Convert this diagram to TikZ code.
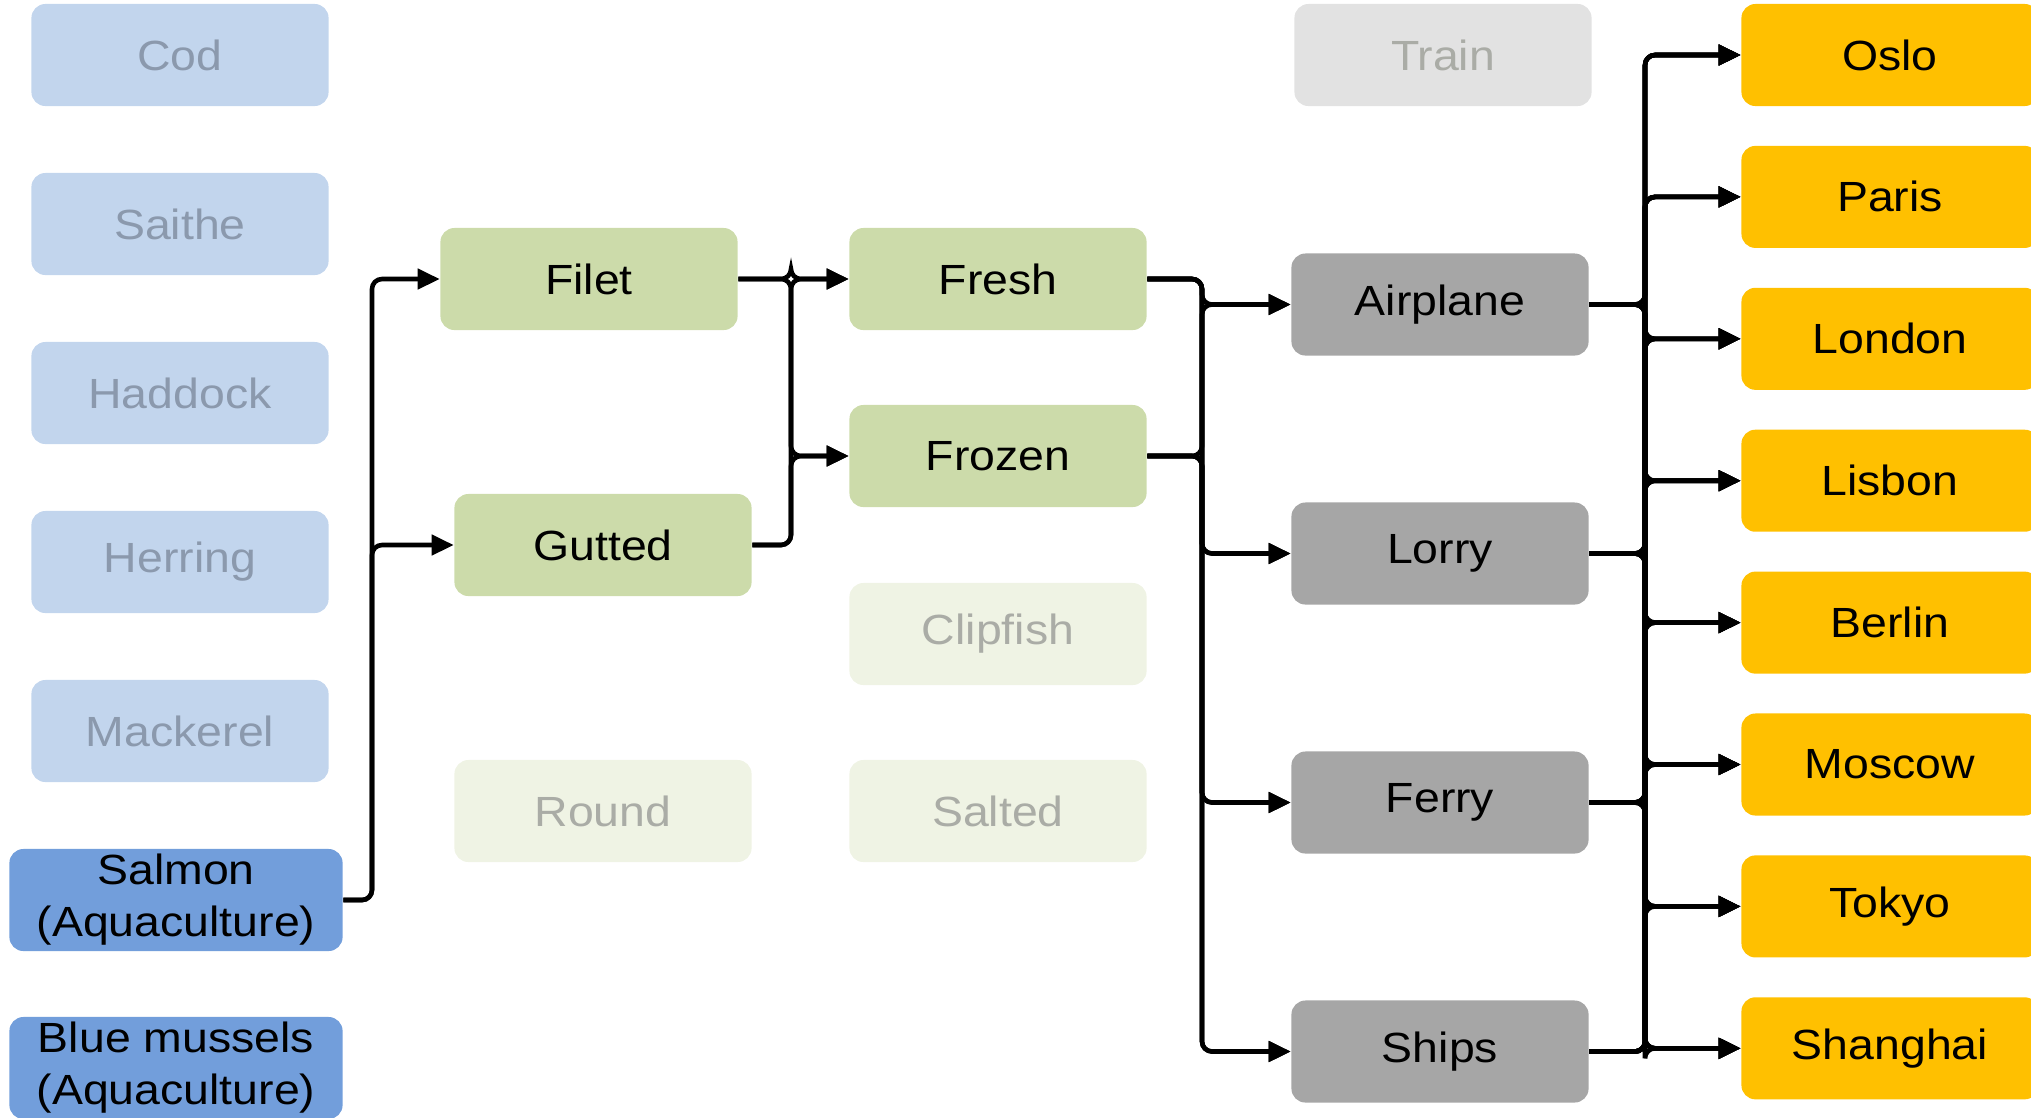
\documentclass[tikz,border=0pt]{standalone}
\usepackage{fontspec}
\setmainfont{Liberation Sans}[FakeStretch=1.1]
\usetikzlibrary{arrows.meta}
\definecolor{fishpale}{RGB}{194,213,237}
\definecolor{fishtext}{RGB}{139,153,173}
\definecolor{fishblue}{RGB}{114,158,219}
\definecolor{cutgreen}{RGB}{204,219,170}
\definecolor{cutpale}{RGB}{239,243,228}
\definecolor{paletext}{RGB}{170,172,166}
\definecolor{ridegray}{RGB}{166,166,166}
\definecolor{ridepale}{RGB}{226,226,226}
\definecolor{cityyellow}{RGB}{255,192,0}

\begin{document}
\begin{tikzpicture}[x=0.01cm,y=-0.01cm,
  box/.style={rounded corners=0.14cm,minimum width=2.97cm,minimum height=1.02cm,inner sep=0pt,align=center,font=\fontsize{12}{14.8}\selectfont},
  fishoff/.style={box,fill=fishpale,text=fishtext},
  fishon/.style={box,fill=fishblue,minimum width=3.33cm},
  cut/.style={box,fill=cutgreen},
  cutoff/.style={box,fill=cutpale,text=paletext},
  ride/.style={box,fill=ridegray},
  rideoff/.style={box,fill=ridepale,text=paletext},
  city/.style={box,fill=cityyellow},
  link/.style={line width=1.3pt,rounded corners=0.1cm,-{Triangle[length=0.22cm,width=0.2cm]}}]
\clip (0,0) rectangle (2031,1117);
\foreach \n/\t [count=\i from 0] in {cod/Cod,saithe/Saithe,haddock/Haddock,herring/Herring,mackerel/Mackerel}
  \node[fishoff] (\n) at (180,{55+169*\i}) {\t};
\node[fishon] (salmon) at (176,900) {Salmon\\(Aquaculture)};
\node[fishon] (mussels) at (176,1068) {Blue mussels\\(Aquaculture)};
\node[cut] (filet) at (589,279) {Filet};
\node[cut] (gutted) at (603,545) {Gutted};
\node[cutoff] (round) at (603,811) {Round};
\node[cut] (fresh) at (998,279) {Fresh};
\node[cut] (frozen) at (998,456) {Frozen};
\node[cutoff] (clipfish) at (998,634) {Clipfish};
\node[cutoff] (salted) at (998,811) {Salted};
\node[rideoff] (train) at (1443,55) {Train};
\foreach \n/\t [count=\i from 0] in {airplane/Airplane,lorry/Lorry,ferry/Ferry,ships/Ships}
  \node[ride] (\n) at (1440,{304.5+249*\i}) {\t};
\foreach \n/\t [count=\i from 0] in {oslo/Oslo,paris/Paris,london/London,lisbon/Lisbon,berlin/Berlin,moscow/Moscow,tokyo/Tokyo,shanghai/Shanghai}
  \node[city] (\n) at (1890,{55+141.9*\i}) {\t};
\coordinate (busa) at (372,0);
\coordinate (busb) at (791,0);
\coordinate (busc) at (1202,0);
\coordinate (busd) at (1645,0);
\foreach \t in {filet,gutted}
  \draw[link] (salmon.east) -- (salmon.east -| busa) |- (\t.west);
\foreach \s in {filet,gutted}
  \foreach \t in {fresh,frozen}
    \draw[link] (\s.east) -- (\s.east -| busb) |- (\t.west);
\foreach \s in {fresh,frozen}
  \foreach \t in {airplane,lorry,ferry,ships}
    \draw[link] (\s.east) -- (\s.east -| busc) |- (\t.west);
\foreach \s in {airplane,lorry,ferry,ships}
  \foreach \t in {oslo,paris,london,lisbon,berlin,moscow,tokyo,shanghai}
    \draw[link] (\s.east) -- (\s.east -| busd) |- (\t.west);
\end{tikzpicture}
\end{document}
